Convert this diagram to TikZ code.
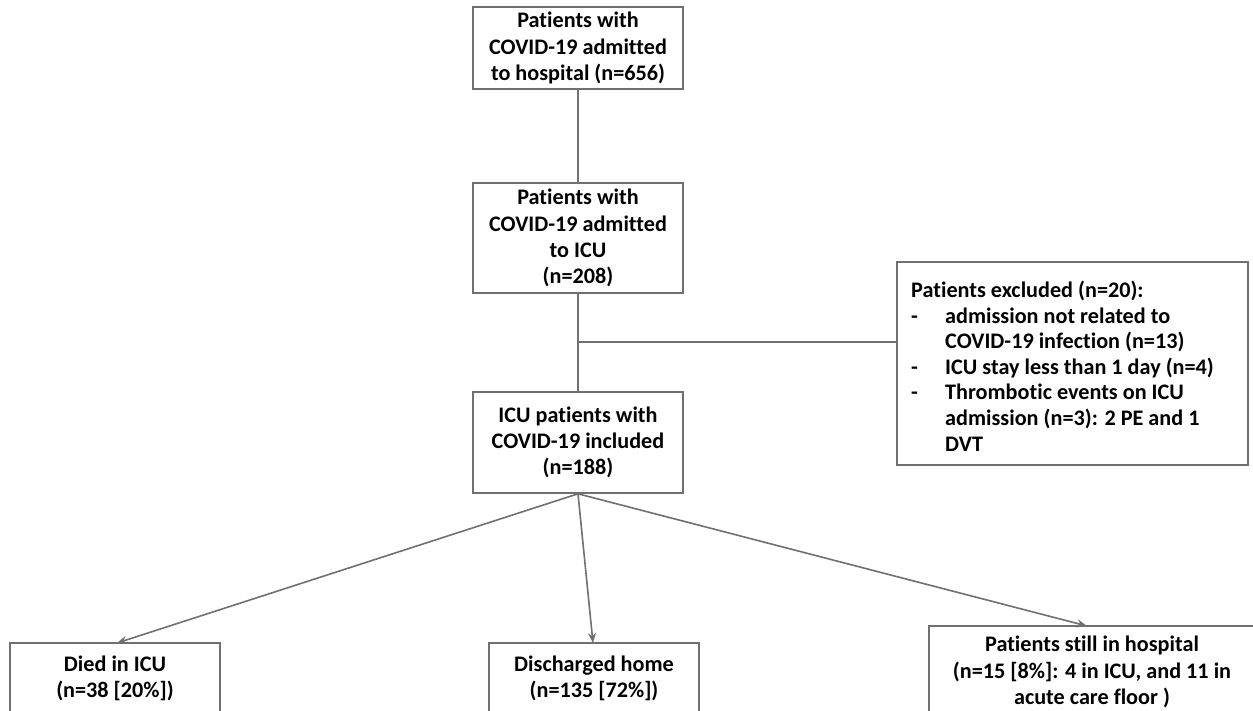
\documentclass[tikz,border=0pt]{standalone}
\usepackage{fontspec}
\setmainfont{Carlito}[Ligatures=NoCommon]
\usetikzlibrary{arrows.meta}
\definecolor{linegray}{HTML}{707070}
\begin{document}
\begin{tikzpicture}[x=1pt,y=-1pt,
  box/.style={draw=linegray, line width=1.6pt, fill=white, align=center, inner sep=0pt,
    font=\fontsize{22.2}{26.2}\selectfont\bfseries},
  conn/.style={draw=linegray, line width=1.6pt},
  arr/.style={conn, -{Stealth[length=10pt,width=8pt]}}]
\clip (0,0) rectangle (1253,711);
\fill[white] (0,0) rectangle (1253,711);
\node[box, minimum width=210pt, minimum height=82pt] (hosp) at (578,48) {Patients with\\COVID-19 admitted\\to hospital (n=656)};
\node[box, minimum width=210pt, minimum height=110pt] (icu) at (578,238) {Patients with\\COVID-19 admitted\\to ICU\\(n=208)};
\node[box, minimum width=210pt, minimum height=101pt] (incl) at (578,442.5) {ICU patients with\\COVID-19 included\\(n=188)};
\node[box, minimum width=351pt, minimum height=203pt] (excl) at (1072.5,363.5) {};
\node[font=\fontsize{22.2}{25.6}\selectfont\bfseries, align=left, inner sep=0pt, anchor=west] (excltext) at (911,366) {Patients excluded (n=20):\\
\makebox[34pt][l]{-}admission not related to\\
\hspace*{34pt}COVID-19 infection (n=13)\\
\makebox[34pt][l]{-}ICU stay less than 1 day (n=4)\\
\makebox[34pt][l]{-}Thrombotic events on ICU\\
\hspace*{34pt}admission (n=3): 2 PE and 1\\
\hspace*{34pt}DVT};
\node[box, minimum width=210pt, minimum height=70pt] (died) at (115,678) {Died in ICU\\(n=38 [20\%])};
\node[box, minimum width=210pt, minimum height=70pt] (home) at (594,678) {Discharged home\\(n=135 [72\%])};
\node[box, minimum width=326pt, minimum height=92pt] (still) at (1092,672) {Patients still in hospital\\(n=15 [8\%]: 4 in ICU, and 11 in\\acute care floor )};
\coordinate (j) at (578,342);
\draw[conn] (hosp.south) -- (icu.north);
\draw[conn] (icu.south) -- (incl.north);
\draw[conn] (j) -- (excl.west |- j);
\draw[arr] (incl.south) -- (117,643);
\draw[arr] (incl.south) -- (593,643);
\draw[arr] (incl.south) -- (1087,626);
\end{tikzpicture}
\end{document}
